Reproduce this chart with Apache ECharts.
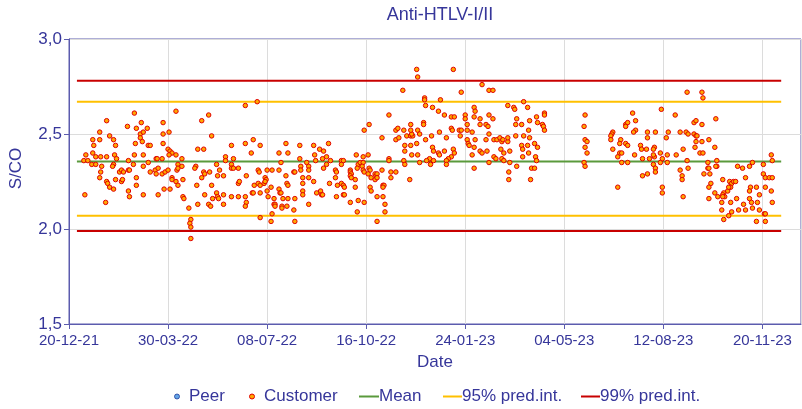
<!DOCTYPE html>
<html>
<head>
<meta charset="utf-8">
<script src="https://cdn.jsdelivr.net/npm/echarts@6/dist/echarts.min.js"></script>
<style>html,body{margin:0;padding:0;background:#fff}#c{width:802px;height:409px}</style>
</head>
<body>
<div id="c"></div>
<script>
// Day 0 of the x axis = 20-12-2021 ; x values are days since that date
const startDate = [2021, 11, 20];
const xTickDays = 100;
const xMaxDay = 739;
const yTicks = [1.5, 2.0, 2.5, 3.0];

const meanValue = 2.355;
const pred95 = [2.07, 2.67];
const pred99 = [1.99, 2.78];
const refLineDays = [8, 719];

const peerPoints = [];

// [day since 20-12-21, S/CO]
const customerPoints = [
[16,2.18],[17,2.39],[15,2.36],[19,2.36],[24,2.47],[31,2.47],[31,2.51],[24,2.40],[25,2.44],[23,2.34],[27,2.34],[27,2.38],[32,2.38],[38,2.38],[33,2.33],[32,2.30],[31,2.27],[37,2.14],[38,2.57],[41,2.49],[45,2.47],[47,2.44],[46,2.39],[48,2.37],[45,2.34],[44,2.33],[38,2.25],[39,2.24],[41,2.22],[45,2.21],[47,2.26],[51,2.30],[53,2.31],[55,2.30],[53,2.25],[54,2.26],[60,2.31],[61,2.31],[60,2.36],[59,2.54],[60,2.20],[61,2.17],[66,2.61],[68,2.53],[67,2.45],[66,2.39],[65,2.34],[68,2.27],[68,2.23],[73,2.56],[72,2.50],[72,2.48],[74,2.46],[75,2.51],[75,2.39],[75,2.33],[75,2.18],[79,2.53],[80,2.44],[82,2.44],[80,2.35],[82,2.30],[88,2.37],[89,2.37],[94,2.37],[87,2.31],[90,2.32],[88,2.29],[94,2.29],[97,2.30],[90,2.18],[95,2.56],[95,2.50],[95,2.45],[100,2.42],[102,2.41],[104,2.40],[101,2.39],[100,2.31],[104,2.27],[104,2.26],[96,2.21],[102,2.21],[108,2.62],[101,2.51],[108,2.39],[110,2.34],[109,2.31],[110,2.32],[108,2.25],[110,2.23],
[114,2.37],[114,2.33],[115,2.26],[115,2.17],[116,2.16],[121,2.11],[123,2.05],[122,2.03],[123,2.01],[123,1.95],[128,2.33],[127,2.32],[129,2.23],[130,2.13],[130,2.42],[136,2.42],[134,2.57],[141,2.60],[136,2.30],[134,2.27],[137,2.29],[137,2.18],[142,2.30],[144,2.49],[144,2.23],[141,2.13],[143,2.12],[145,2.16],[149,2.19],[150,2.17],[151,2.16],[156,2.18],[149,2.34],[152,2.31],[150,2.28],[156,2.28],[156,2.13],[158,2.38],[158,2.36],[164,2.34],[164,2.32],[166,2.32],[166,2.37],[164,2.44],[171,2.32],[164,2.17],[171,2.24],[172,2.25],[171,2.17],[178,2.65],[178,2.45],[179,2.28],[178,2.17],[179,2.14],[178,2.12],[184,2.40],[186,2.47],[187,2.23],[185,2.19],[186,2.19],[190,2.67],[191,2.31],[192,2.30],[193,2.44],[191,2.24],[193,2.23],[197,2.24],[193,2.19],[193,2.06],[198,2.27],[199,2.26],[198,2.25],[200,2.31],[205,2.31],[212,2.31],[200,2.20],[201,2.17],[204,2.22],[207,2.16],[207,2.13],[208,2.13],[205,2.08],[204,2.04],[212,2.40],[221,2.40],[219,2.45],[214,2.35],[219,2.28],[220,2.24],[221,2.23],[212,2.21],[213,2.19],[214,2.19],[216,2.16],[221,2.16],[208,2.12],[215,2.12],[220,2.12],[215,2.11],[227,2.30],[228,2.30],[227,2.10],[228,2.04],[233,2.44],[233,2.37],[228,2.16],
[234,2.33],[234,2.31],[236,2.27],[236,2.24],[236,2.20],[236,2.18],[240,2.35],[242,2.33],[242,2.31],[242,2.27],[242,2.13],[247,2.44],[248,2.39],[249,2.36],[247,2.25],[253,2.42],[257,2.41],[262,2.45],[260,2.38],[256,2.37],[264,2.36],[260,2.34],[257,2.32],[269,2.31],[270,2.30],[269,2.27],[263,2.24],[250,2.19],[254,2.20],[255,2.18],[256,2.18],[270,2.17],[271,2.23],[275,2.24],[277,2.23],[278,2.22],[277,2.18],[278,2.18],[275,2.36],[277,2.36],[275,2.34],[284,2.31],[284,2.30],[285,2.29],[284,2.28],[285,2.27],[289,2.26],[289,2.22],[284,2.14],[291,2.09],[292,2.15],[298,2.14],[290,2.39],[297,2.38],[292,2.34],[294,2.35],[297,2.35],[296,2.33],[291,2.32],[297,2.31],[298,2.30],[302,2.39],[303,2.32],[304,2.31],[302,2.29],[305,2.27],[304,2.22],[305,2.20],[309,2.29],[310,2.28],[311,2.29],[309,2.26],[311,2.27],[311,2.04],[311,2.17],[316,2.31],[317,2.23],[318,2.23],[317,2.22],[317,2.17],[319,2.13],[319,2.09],[325,2.30],[330,2.30],[325,2.27],[323,2.37],[323,2.36],[338,2.36],[339,2.34],[344,2.26],[298,2.52],[303,2.55],[316,2.48],[323,2.60],[330,2.52],[332,2.53],[330,2.47],[333,2.48],[338,2.52],[339,2.41],[339,2.44],[341,2.49],[345,2.49],[347,2.49],[346,2.50],[345,2.44],[345,2.55],[345,2.52],[346,2.39],[352,2.39],[354,2.35],[352,2.52],[354,2.50],[351,2.45],[337,2.73],[351,2.84],[352,2.80],
[359,2.69],[359,2.68],[360,2.65],[358,2.56],[358,2.55],[360,2.47],[388,2.84],[417,2.76],[424,2.73],[428,2.73],[396,2.72],[375,2.68],[367,2.64],[373,2.62],[379,2.60],[386,2.59],[389,2.59],[400,2.60],[400,2.58],[409,2.64],[410,2.62],[409,2.59],[415,2.58],[424,2.60],[428,2.58],[415,2.55],[421,2.55],[423,2.54],[402,2.55],[386,2.53],[387,2.52],[394,2.52],[396,2.52],[402,2.52],[407,2.51],[395,2.49],[374,2.51],[366,2.49],[381,2.48],[402,2.47],[403,2.45],[404,2.44],[409,2.43],[410,2.47],[421,2.47],[424,2.50],[429,2.47],[432,2.47],[435,2.48],[437,2.46],[438,2.47],[443,2.46],[443,2.48],[436,2.42],[439,2.40],[445,2.41],[415,2.41],[417,2.40],[422,2.41],[407,2.39],[367,2.43],[368,2.41],[373,2.40],[374,2.39],[379,2.41],[388,2.42],[389,2.40],[386,2.38],[383,2.37],[381,2.36],[381,2.34],[364,2.37],[361,2.36],[368,2.36],[365,2.34],[429,2.38],[431,2.37],[437,2.37],[439,2.36],[424,2.35],[445,2.35],[452,2.33],[409,2.32],[444,2.30],[444,2.26],[443,2.65],[449,2.64],[450,2.63],[459,2.67],[463,2.64],[452,2.58],[451,2.55],[457,2.55],[465,2.57],[472,2.59],[473,2.56],[480,2.61],[480,2.60],[478,2.55],[479,2.54],[480,2.52],[451,2.49],[459,2.49],[464,2.52],[465,2.48],[470,2.45],[473,2.43],[457,2.44],[458,2.42],[463,2.44],[464,2.40],[458,2.38],[471,2.38],[472,2.36],[467,2.32],[470,2.32],[466,2.26],
[521,2.60],[520,2.54],[521,2.47],[523,2.46],[521,2.43],[523,2.40],[520,2.35],[521,2.33],[569,2.61],[572,2.57],[562,2.55],[564,2.56],[562,2.54],[572,2.52],[570,2.51],[549,2.51],[548,2.50],[547,2.49],[547,2.47],[557,2.47],[556,2.45],[562,2.45],[564,2.44],[549,2.42],[556,2.40],[558,2.40],[554,2.38],[558,2.35],[564,2.35],[554,2.22],[571,2.39],[577,2.44],[578,2.42],[579,2.37],[579,2.28],[584,2.51],[584,2.48],[583,2.42],[584,2.29],[586,2.37],[591,2.43],[590,2.42],[591,2.38],[590,2.39],[592,2.51],[590,2.34],[592,2.32],[592,2.30],[597,2.40],[597,2.35],
[598,2.63],[599,2.37],[599,2.22],[599,2.19],[603,2.48],[604,2.39],[604,2.35],[605,2.51],[612,2.60],[613,2.39],[617,2.51],[617,2.31],[619,2.28],[619,2.26],[620,2.42],[620,2.17],[624,2.72],[623,2.51],[625,2.50],[624,2.36],[625,2.32],[631,2.50],[633,2.49],[634,2.49],[633,2.46],[632,2.43],[631,2.56],[633,2.57],[639,2.72],[640,2.69],[639,2.55],[639,2.46],[637,2.40],[640,2.40],[641,2.29],[646,2.47],[645,2.35],[645,2.32],[646,2.32],[647,2.29],[648,2.24],[646,2.22],[646,2.16],[652,2.43],[653,2.58],[654,2.36],[654,2.33],[653,2.33],[652,2.19],[655,2.17],[660,2.26],[661,2.19],[660,2.18],[662,2.17],[660,2.17],[659,2.14],[659,2.10],[661,2.05],[666,2.07],[665,2.20],[667,2.25],[669,2.24],[671,2.25],[673,2.25],[667,2.22],[668,2.22],[666,2.22],[668,2.14],[669,2.09],[674,2.16],[676,2.10],[675,2.33],[680,2.32],[681,2.13],[683,2.27],[683,2.10],[687,2.33],[690,2.35],[688,2.22],[687,2.20],[687,2.16],[689,2.14],[690,2.11],[694,2.22],[697,2.18],[695,2.14],[697,2.10],[694,2.04],[701,2.34],[701,2.29],[703,2.27],[707,2.27],[710,2.27],[703,2.22],[702,2.08],[703,2.08],[703,2.04],[709,2.39],[710,2.36],[709,2.20],[710,2.14]
];

const TXT = '#36369a';
const AXIS = '#5c5cae';
const FONT = '"Liberation Sans", Arial, sans-serif';
const C_GREEN = '#5a9a3c', C_YELLOW = '#ffc000', C_RED = '#c80000';
const C_FILL = '#ffa800', C_EDGE = '#e00000';

const t0 = Date.UTC(startDate[0], startDate[1], startDate[2]);
function fmtDay(d) {
  const t = new Date(t0 + d * 86400000);
  const p = n => String(n).padStart(2, '0');
  return p(t.getUTCDate()) + '-' + p(t.getUTCMonth() + 1) + '-' + p(t.getUTCFullYear() % 100);
}
function hLine(v) { return [[refLineDays[0], v], [refLineDays[1], v]]; }

const chart = echarts.init(document.getElementById('c'), null, {renderer: 'canvas'});
const legendBase = {
  orient: 'horizontal', top: 388, padding: 0, itemGap: 0, selectedMode: false,
  textStyle: {color: TXT, fontSize: 17, fontFamily: FONT}
};
chart.setOption({
  animation: false,
  textStyle: {fontFamily: FONT},
  title: {
    text: 'Anti-HTLV-I/II', left: 435, textAlign: 'center', top: 1,
    textStyle: {color: TXT, fontSize: 18, fontWeight: 'normal', fontFamily: FONT}
  },
  grid: {left: 68, right: 1, top: 39, bottom: 85, show: true, borderColor: AXIS, borderWidth: 1, backgroundColor: 'transparent'},
  legend: [
    Object.assign({}, legendBase, {left: 174, itemWidth: 14, itemHeight: 5,
      data: [{name: 'Peer', icon: 'circle', itemStyle: {color: '#3d8fe0', borderColor: '#1e3c9a', borderWidth: 1}}]}),
    Object.assign({}, legendBase, {left: 249, itemWidth: 14, itemHeight: 5,
      data: [{name: 'Customer', icon: 'circle', itemStyle: {color: C_FILL, borderColor: C_EDGE, borderWidth: 1}}]}),
    Object.assign({}, legendBase, {left: 359, itemWidth: 20, itemHeight: 2,
      data: [{name: 'Mean', icon: 'rect', itemStyle: {color: C_GREEN}, textStyle: {padding: [0, 0, 0, -5]}}]}),
    Object.assign({}, legendBase, {left: 443, itemWidth: 19, itemHeight: 2,
      data: [{name: '95% pred.int.', icon: 'rect', itemStyle: {color: C_YELLOW}, textStyle: {padding: [0, 0, 0, -5]}}]}),
    Object.assign({}, legendBase, {left: 581, itemWidth: 19, itemHeight: 2,
      data: [{name: '99% pred.int.', icon: 'rect', itemStyle: {color: C_RED}, textStyle: {padding: [0, 0, 0, -5]}}]})
  ],
  xAxis: {
    type: 'value', min: 0, max: xMaxDay, interval: xTickDays,
    name: 'Date', nameLocation: 'middle', nameGap: 30,
    nameTextStyle: {color: TXT, fontSize: 17, fontFamily: FONT},
    axisLine: {show: true, lineStyle: {color: AXIS, width: 1}},
    axisTick: {show: true, length: 5, lineStyle: {color: AXIS}},
    axisLabel: {color: TXT, fontSize: 15, margin: 9, fontFamily: FONT, showMaxLabel: false,
      formatter: v => (v % xTickDays === 0 ? fmtDay(v) : '')},
    splitLine: {show: true, lineStyle: {color: '#dcdcdc', width: 1}}
  },
  yAxis: {
    type: 'value', min: yTicks[0], max: yTicks[yTicks.length - 1], interval: yTicks[1] - yTicks[0],
    name: 'S/CO', nameLocation: 'middle', nameGap: 44,
    nameTextStyle: {color: TXT, fontSize: 17, fontFamily: FONT, padding: [0, 0, 0, 26]},
    axisLine: {show: true, lineStyle: {color: AXIS, width: 1}},
    axisTick: {show: true, length: 5, lineStyle: {color: AXIS}},
    axisLabel: {color: TXT, fontSize: 17, margin: 7, fontFamily: FONT,
      formatter: v => v.toFixed(1).replace('.', ',')},
    splitLine: {show: true, lineStyle: {color: '#dcdcdc', width: 1}}
  },
  series: [
    {name: 'Mean', type: 'line', data: hLine(meanValue), showSymbol: false, symbol: 'none', z: 2,
      lineStyle: {color: C_GREEN, width: 2}, itemStyle: {color: C_GREEN}},
    {name: '95% pred.int.', type: 'line', data: hLine(pred95[1]), symbol: 'none', z: 2,
      lineStyle: {color: C_YELLOW, width: 2}, itemStyle: {color: C_YELLOW}},
    {name: '95% pred.int.', type: 'line', data: hLine(pred95[0]), symbol: 'none', z: 2,
      lineStyle: {color: C_YELLOW, width: 2}, itemStyle: {color: C_YELLOW}},
    {name: '99% pred.int.', type: 'line', data: hLine(pred99[1]), symbol: 'none', z: 2,
      lineStyle: {color: C_RED, width: 2}, itemStyle: {color: C_RED}},
    {name: '99% pred.int.', type: 'line', data: hLine(pred99[0]), symbol: 'none', z: 2,
      lineStyle: {color: C_RED, width: 2}, itemStyle: {color: C_RED}},
    {name: 'Peer', type: 'scatter', data: peerPoints, symbolSize: 5, z: 3,
      itemStyle: {color: '#3d8fe0', borderColor: '#1e3c9a', borderWidth: 1}},
    {name: 'Customer', type: 'scatter', data: customerPoints, symbolSize: 4.5, z: 4,
      itemStyle: {color: C_FILL, borderColor: C_EDGE, borderWidth: 1, opacity: 1}}
  ]
});
</script>
</body>
</html>
